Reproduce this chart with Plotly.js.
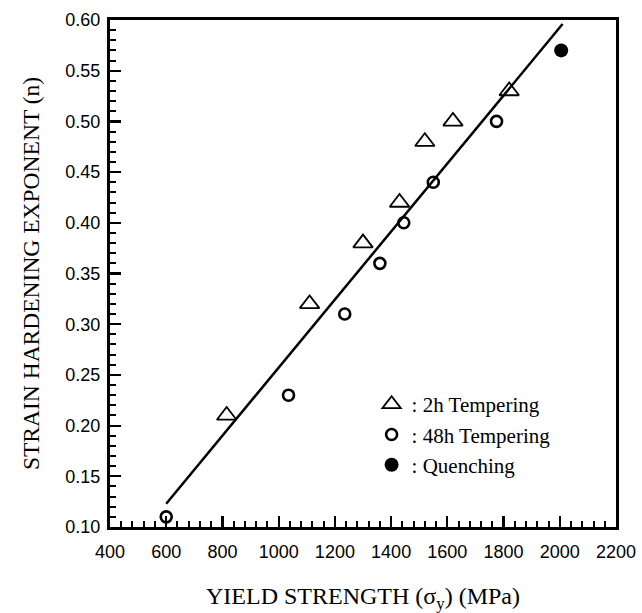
<!DOCTYPE html>
<html>
<head>
<meta charset="utf-8">
<script src="https://cdn.plot.ly/plotly-3.0.1.min.js"></script>
<style>html,body{margin:0;padding:0;background:#fff;}#chart{width:642px;height:613px;}</style>
</head>
<body>
<div id="chart"></div>
<script>
// 2h tempering (triangles)
var temper2hX = [815, 1110, 1300, 1430, 1520, 1620, 1820];
var temper2hY = [0.21, 0.32, 0.38, 0.42, 0.48, 0.50, 0.53];
// 48h tempering (open circles)
var temper48hX = [600, 1035, 1235, 1360, 1445, 1550, 1775];
var temper48hY = [0.11, 0.23, 0.31, 0.36, 0.40, 0.44, 0.50];
// quenching (filled circle)
var quenchX = [2005];
var quenchY = [0.57];
// fitted line end points
var fitX = [600, 2010];
var fitY = [0.123, 0.596];
// legend labels
var names = [': 2h Tempering', ': 48h Tempering', ': Quenching'];

var traces = [
  {x: fitX, y: fitY, mode: 'lines', line: {color: '#000', width: 2.5}, showlegend: false, hoverinfo: 'skip'},
  {x: temper2hX, y: temper2hY, mode: 'markers', name: names[0],
   marker: {symbol: 'triangle-up-open', size: 17, color: '#000', line: {width: 1.8, color: '#000'}}},
  {x: temper48hX, y: temper48hY, mode: 'markers', name: names[1],
   marker: {symbol: 'circle-open', size: 11, color: '#000', line: {width: 2.6, color: '#000'}}},
  {x: quenchX, y: quenchY, mode: 'markers', name: names[2],
   marker: {symbol: 'circle', size: 14, color: '#000'}}
];

var axisCommon = {
  showgrid: false, zeroline: false, showline: true, linecolor: '#000', linewidth: 3, mirror: true,
  ticks: 'inside', ticklen: 11, tickwidth: 2.2, tickcolor: '#000',
  tickfont: {family: 'Liberation Sans, Arial, sans-serif', size: 18, color: '#000'}
};

var layout = {
  width: 642, height: 613,
  margin: {l: 110, r: 26, t: 20, b: 86},
  paper_bgcolor: '#fff', plot_bgcolor: '#fff',
  xaxis: Object.assign({}, axisCommon, {
    range: [400, 2200], dtick: 200, tick0: 400, ticklabelstandoff: 6,
    minor: {dtick: 40, ticks: 'inside', ticklen: 6, tickwidth: 2, tickcolor: '#000'},
    title: {text: 'YIELD STRENGTH (σ<sub>y</sub>) (MPa)', standoff: 27,
            font: {family: 'Liberation Serif, Times New Roman, serif', size: 24, color: '#000'}}
  }),
  yaxis: Object.assign({}, axisCommon, {
    range: [0.10, 0.60], dtick: 0.05, tick0: 0.10, tickformat: '.2f', ticklabelstandoff: 3,
    minor: {dtick: 0.01, ticks: 'inside', ticklen: 6, tickwidth: 2, tickcolor: '#000'},
    title: {text: 'STRAIN HARDENING EXPONENT (n)', standoff: 20,
            font: {family: 'Liberation Serif, Times New Roman, serif', size: 23.5, color: '#000'}}
  }),
  showlegend: true,
  legend: {
    x: 0.517, y: 0.282, xanchor: 'left', yanchor: 'top',
    bgcolor: 'rgba(0,0,0,0)', borderwidth: 0,
    font: {family: 'Liberation Serif, Times New Roman, serif', size: 21, color: '#000'}
  }
};

Plotly.newPlot('chart', traces, layout, {displayModeBar: false, staticPlot: true});
</script>
</body>
</html>
